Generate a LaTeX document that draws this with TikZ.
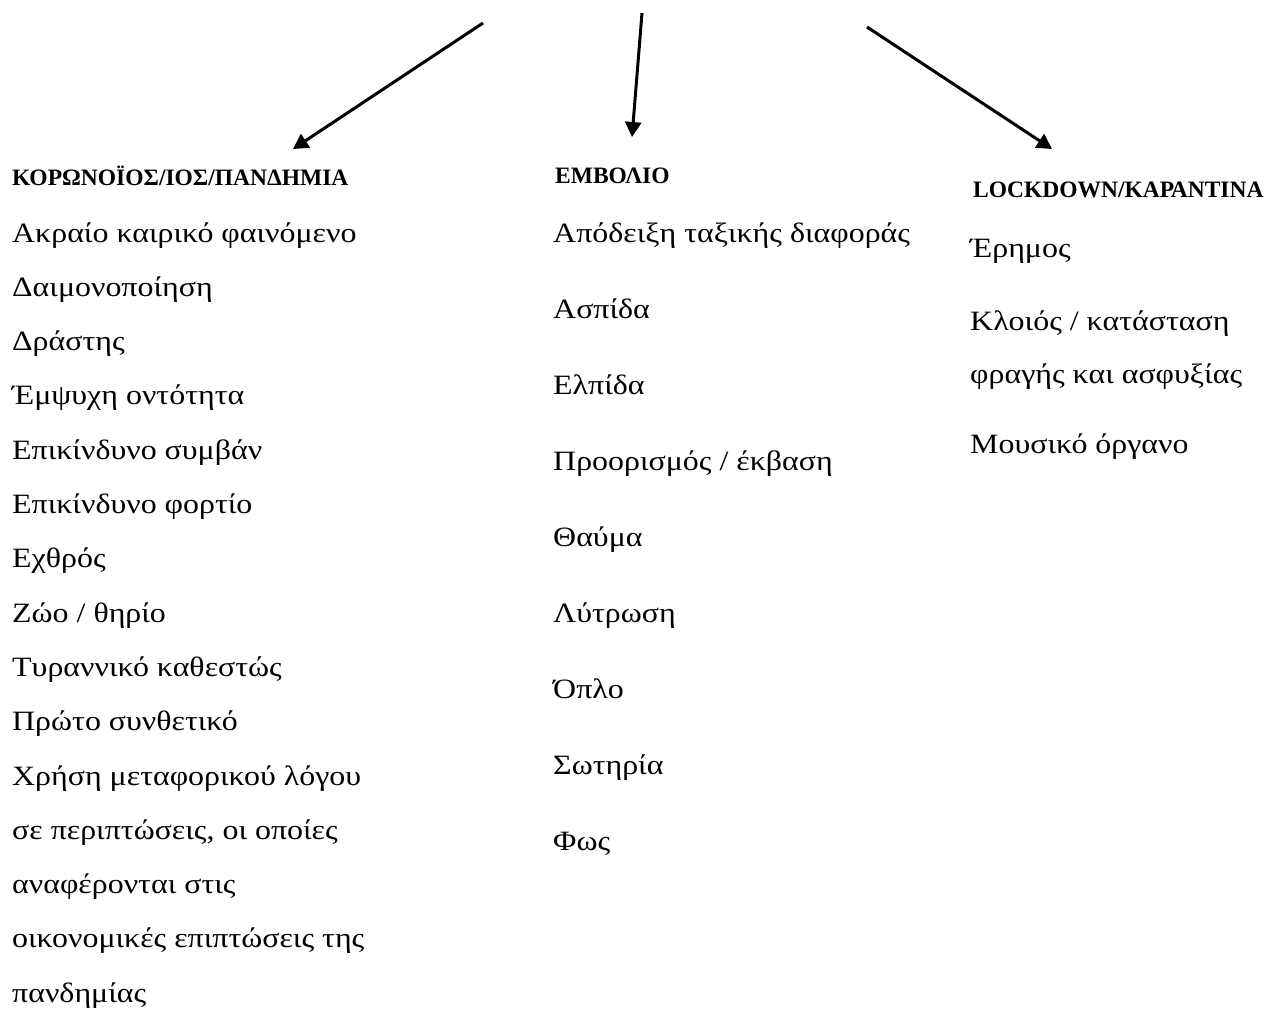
\documentclass[tikz,border=0pt]{standalone}
\usepackage{fontspec}
\setmainfont{Liberation Serif}
\newfontfamily\bodyfont{Liberation Serif}[FakeStretch=1.14]
\usetikzlibrary{arrows.meta}

\begin{document}
\begin{tikzpicture}
  [x=1pt,y=-1pt,every node/.style={anchor=base west,inner sep=0pt,font=\bodyfont\fontsize{28}{32}\selectfont},
   head/.style={font=\fontsize{23.5}{27}\selectfont\bfseries},
   arr/.style={line width=3pt,-{Triangle[length=15pt,width=16pt]}}]
  \useasboundingbox (0,0) rectangle (1273,1020);

  \coordinate (s1) at (483, 23);
  \coordinate (s2) at (642, 13);
  \coordinate (s3) at (867, 27);
  \coordinate (t1) at (293, 149);
  \coordinate (t2) at (632, 137);
  \coordinate (t3) at (1052, 149);

  \foreach \from/\to in {s1/t1,s2/t2,s3/t3}
    \draw[arr] (\from) -- (\to);

  \node[head] (hk) at (12, 185) {ΚΟΡΩΝΟΪΟΣ/ΙΟΣ/ΠΑΝΔΗΜΙΑ};
  \node[head] (he) at (555, 183) {ΕΜΒΟΛΙΟ};
  \node[head] (hl) at (973, 197) {LOCKDOWN/ΚΑΡΑΝΤΙΝΑ};

  % koronoios
  \node (k1) at (12, 242) {Ακραίο καιρικό φαινόμενο};
  \node (k2) at (12, 296.3) {Δαιμονοποίηση};
  \node (k3) at (12, 350.6) {Δράστης};
  \node (k4) at (12, 404.9) {Έμψυχη οντότητα};
  \node (k5) at (12, 459.2) {Επικίνδυνο συμβάν};
  \node (k6) at (12, 513.5) {Επικίνδυνο φορτίο};
  \node (k7) at (12, 567.8) {Εχθρός};
  \node (k8) at (12, 622.1) {Ζώο / θηρίο};
  \node (k9) at (12, 676.4) {Τυραννικό καθεστώς};
  \node (k10) at (12, 730.7) {Πρώτο συνθετικό};
  \node (k11) at (12, 785) {Χρήση μεταφορικού λόγου};
  \node (k12) at (12, 839.3) {σε περιπτώσεις, οι οποίες};
  \node (k13) at (12, 893.6) {αναφέρονται στις};
  \node (k14) at (12, 947.9) {οικονομικές επιπτώσεις της};
  \node (k15) at (12, 1002.2) {πανδημίας};

  % emvolio
  \node (e1) at (553, 242) {Απόδειξη ταξικής διαφοράς};
  \node (e2) at (553, 318) {Ασπίδα};
  \node (e3) at (553, 394) {Ελπίδα};
  \node (e4) at (553, 470) {Προορισμός / έκβαση};
  \node (e5) at (553, 546) {Θαύμα};
  \node (e6) at (553, 622) {Λύτρωση};
  \node (e7) at (553, 698) {Όπλο};
  \node (e8) at (553, 774) {Σωτηρία};
  \node (e9) at (553, 850) {Φως};

  % lockdown
  \node (l1) at (970, 257) {Έρημος};
  \node (l2) at (970, 330) {Κλοιός / κατάσταση};
  \node (l3) at (970, 383) {φραγής και ασφυξίας};
  \node (l4) at (970, 453) {Μουσικό όργανο};

\end{tikzpicture}
\end{document}
